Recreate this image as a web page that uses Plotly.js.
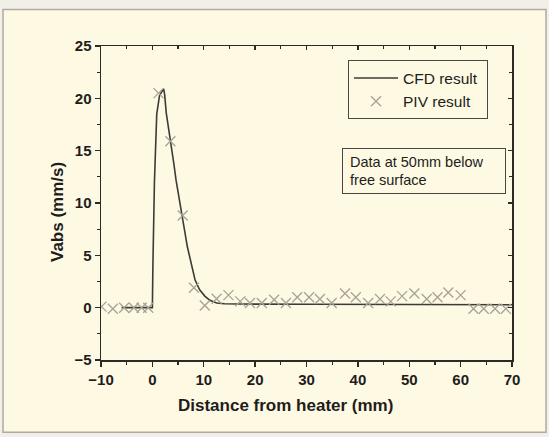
<!DOCTYPE html>
<html><head><meta charset="utf-8">
<script src="https://cdn.plot.ly/plotly-3.0.1.min.js"></script>
<style>html,body{margin:0;padding:0;background:#f1efe8;}#chart{width:549px;height:437px;}</style>
</head><body><div id="chart"></div>
<script>
// CFD result (continuous line)
const cfdX = [-6, 0, 0.1, 0.4, 0.85, 1.4, 2.2, 2.4, 2.7, 3.2, 3.75, 4.2, 4.6, 5.2, 5.7, 6.3, 6.8, 7.5, 8.3, 9.2, 10.25, 11.2, 12.5, 14, 16, 20, 30, 40, 50, 60, 70];
const cfdY = [0, 0, 4, 12, 18.5, 20.3, 20.9, 20.3, 18.6, 17.0, 15.4, 13.7, 12.2, 10.6, 9.0, 7.3, 5.84, 4.2, 2.67, 1.7, 1.08, 0.7, 0.45, 0.37, 0.35, 0.34, 0.33, 0.32, 0.31, 0.3, 0.28];
// PIV result (x markers)
const pivX = [-9.9, -7.7, -5.5, -3.6, -2.1, -0.8, 1.2, 3.5, 5.9, 8.1, 10.2, 12.5, 14.8, 17.1, 19.0, 21.3, 23.7, 26.0, 28.2, 30.5, 32.6, 34.9, 37.5, 39.6, 42.0, 44.3, 46.4, 48.6, 51.0, 53.4, 55.5, 57.6, 60.0, 62.5, 64.5, 66.7, 68.8];
const pivY = [0.1, -0.1, 0, 0, 0, 0, 20.5, 15.9, 8.8, 1.9, 0.2, 0.85, 1.2, 0.6, 0.45, 0.45, 0.76, 0.45, 1.0, 1.0, 0.83, 0.45, 1.35, 1.0, 0.45, 0.83, 0.6, 1.1, 1.35, 0.83, 1.0, 1.45, 1.2, -0.1, -0.1, -0.1, -0.1];
const xTitle = 'Distance from heater (mm)';
const yTitle = 'Vabs (mm/s)';
const noteText = '\u00a0Data at 50mm below<br>\u00a0free surface';
const legendNames = ['CFD result\u00a0', 'PIV result\u00a0'];

const axisCol = '#2b2a27';
const FF = 'Liberation Sans, Arial, sans-serif';
const traces = [
  {x: cfdX, y: cfdY, mode: 'lines', name: legendNames[0], line: {color: '#3d3b37', width: 1.6}},
  {x: pivX, y: pivY, mode: 'markers', name: legendNames[1],
   marker: {symbol: 'x-thin-open', size: 10, color: '#a8a297', line: {color: '#a8a297', width: 1.3}}},
  {x: [], y: [], xaxis: 'x2', yaxis: 'y2', showlegend: false, hoverinfo: 'skip'}
];
const tickFont = {family: FF, size: 15, color: '#1e1d1b', weight: 'bold'};
const titleFont = {family: FF, size: 17, color: '#1e1d1b', weight: 'bold'};
const layout = {
  width: 549, height: 437,
  margin: {l: 101, r: 37, t: 45.5, b: 76.5},
  paper_bgcolor: '#f1efe8',
  plot_bgcolor: 'rgba(0,0,0,0)',
  showlegend: true,
  legend: {x: 0.601, y: 0.954, xanchor: 'left', yanchor: 'top', bgcolor: 'rgba(0,0,0,0)',
    bordercolor: '#4a4843', borderwidth: 1, itemwidth: 44, tracegroupgap: 0,
    font: {family: FF, size: 15.5, color: '#1e1d1b'}},
  xaxis: {range: [-10, 70], dtick: 10, tick0: 0, ticks: 'outside', ticklen: 5, tickwidth: 1.3, tickcolor: axisCol,
    showline: true, linecolor: axisCol, linewidth: 1.5, showgrid: false, zeroline: false,
    minor: {dtick: 5, ticks: 'outside', ticklen: 3, tickwidth: 1.2, tickcolor: axisCol, showgrid: false},
    tickfont: tickFont},
  yaxis: {range: [-5, 25], dtick: 5, tick0: 0, ticks: 'outside', ticklen: 5, tickwidth: 1.3, tickcolor: axisCol,
    showline: true, linecolor: axisCol, linewidth: 1.5, showgrid: false, zeroline: false,
    minor: {dtick: 2.5, ticks: 'outside', ticklen: 3, tickwidth: 1.2, tickcolor: axisCol, showgrid: false},
    tickfont: tickFont},
  xaxis2: {overlaying: 'x', side: 'top', anchor: 'y2', range: [-10, 70], dtick: 10, tick0: 0,
    ticks: 'inside', ticklen: 4, tickwidth: 1.3, tickcolor: axisCol, showticklabels: false,
    showline: true, linecolor: axisCol, linewidth: 1.5, showgrid: false, zeroline: false,
    minor: {dtick: 5, ticks: 'inside', ticklen: 3, tickwidth: 1.2, tickcolor: axisCol, showgrid: false}},
  yaxis2: {overlaying: 'y', side: 'right', anchor: 'x2', range: [-5, 25], dtick: 5, tick0: 0,
    ticks: 'inside', ticklen: 4, tickwidth: 1.3, tickcolor: axisCol, showticklabels: false,
    showline: true, linecolor: axisCol, linewidth: 1.5, showgrid: false, zeroline: false,
    minor: {dtick: 2.5, ticks: 'inside', ticklen: 3, tickwidth: 1.2, tickcolor: axisCol, showgrid: false}},
  shapes: [
    {type: 'rect', xref: 'paper', yref: 'paper', layer: 'below',
     x0: -0.2384, x1: 1.0827, y0: -0.2302, y1: 1.1159,
     fillcolor: '#fdf9e3', line: {color: '#aeaaa0', width: 1.5}}
  ],
  annotations: [
    {xref: 'paper', yref: 'paper', x: 0.586, y: 0.6746, xanchor: 'left', yanchor: 'top',
     text: noteText, showarrow: false, align: 'left', width: 156, height: 38, valign: 'middle',
     bordercolor: '#4a4843', borderwidth: 1, borderpad: 3,
     font: {family: FF, size: 14.5, color: '#1e1d1b'}},
    {xref: 'paper', yref: 'paper', x: 0.4477, y: -0.1444, xanchor: 'center', yanchor: 'middle',
     text: xTitle, showarrow: false, font: titleFont},
    {xref: 'paper', yref: 'paper', x: -0.1046, y: 0.4714, xanchor: 'center', yanchor: 'middle',
     text: yTitle, showarrow: false, textangle: -90, font: titleFont}
  ]
};
Plotly.newPlot('chart', traces, layout, {displayModeBar: false, staticPlot: true});
</script></body></html>
